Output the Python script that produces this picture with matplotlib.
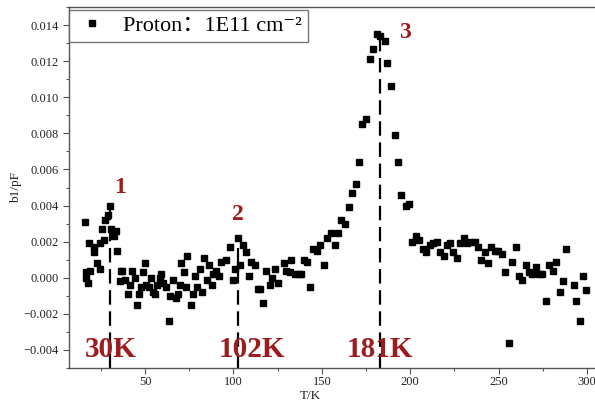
import matplotlib
matplotlib.use("Agg")
import matplotlib.pyplot as plt
from matplotlib.ticker import MultipleLocator, FuncFormatter

# ---- data ----
T = [15.8, 18.3, 16.4, 16.8, 17.7, 19.1, 21.1, 21.4, 23.0, 24.3, 24.3, 25.8, 26.6, 27.5,
     29.0, 30.0, 30.9, 32.2, 33.4, 34.3, 36.2, 37.2, 35.6, 38.5, 40.3, 41.3, 42.8, 44.1,
     45.4, 46.6, 47.9, 48.8, 49.8, 50.7, 52.2, 53.6, 54.5, 55.4, 56.7, 58.3, 59.2, 60.1,
     61.7, 63.5, 63.9, 65.8, 67.7, 68.6, 70.5, 71.8, 73.7,
     69.6, 73.4, 77.1, 75.8, 78.1, 79.4, 81.3, 82.4, 83.3, 85.0, 86.1, 87.8, 88.4, 90.3,
     91.8, 93.2, 96.0, 97.9, 99.7, 101.1, 102.5, 103.9, 105.4, 107.3, 108.8, 110.1, 112.4,
     113.9, 115.2, 116.7, 118.2, 120.5, 122.0, 123.7, 125.4, 128.6, 129.5, 131.8, 132.4,
     134.6, 137.1, 138.4, 139.7, 141.8, 143.5, 145.0, 147.2, 149.2, 151.0, 153.1, 155.0,
     157.2, 159.1, 161.0, 163.3, 165.3, 167.2, 169.1,
     171.0, 172.9, 175.2, 177.0, 178.9, 181.2, 182.7, 185.5, 187.0, 188.9, 191.2, 193.0,
     195.0, 197.8, 199.3,
     201.2, 203.1, 204.9, 207.2, 209.1, 211.4, 212.9, 215.1, 217.0, 218.9, 220.8, 222.7,
     224.2, 226.4, 227.9, 230.2, 232.1, 234.0, 236.4, 238.3, 240.2, 242.1, 243.9, 245.9,
     247.7, 249.6, 251.9, 253.8, 255.7, 257.7, 259.6, 261.5, 263.4, 265.3, 267.1, 269.1,
     270.9, 272.8, 274.7, 277.0, 278.4, 280.7, 282.6, 284.5, 286.4, 288.3, 292.4, 293.9,
     296.2, 297.7, 299.6]
b1 = [0.0031, 0.0019, 0.0000, 0.0003, -0.0003, 0.0004, 0.0014, 0.0017, 0.0008, 0.0005, 0.0019,
      0.0027, 0.0021, 0.0032, 0.0035, 0.0040, 0.0027, 0.0023, 0.0026, 0.0015, 0.0004, 0.0004,
      -0.0002, -0.0001, -0.0009, -0.0004, 0.0004, 0.0000, -0.0015, -0.0009, -0.0005, 0.0003,
      0.0008, -0.0004, -0.0005, 0.0000, -0.0008, -0.0009, -0.0004, 0.0000, 0.0002, -0.0003,
      -0.0005, -0.0024, -0.0010, -0.0001, -0.0011, -0.0009, 0.0008, 0.0003, 0.0012,
      -0.0004, -0.0005, -0.0009, -0.0015, 0.0001, -0.0005, 0.0005, -0.0008, 0.0011, -0.0001,
      0.0007, -0.0004, 0.0002, 0.0004, 0.0001, 0.0009, 0.0010, 0.0017, -0.0001, 0.0005,
      0.0022, 0.0007, 0.0018, 0.0014, 0.0001, 0.0009, 0.0007, -0.0006, -0.0006, -0.0014,
      0.0004, -0.0004, 0.0000, 0.0005, -0.0003, 0.0008, 0.0004, 0.0003, 0.0010, 0.0002,
      0.0002, 0.0002, 0.0010, 0.0009, -0.0005, 0.0016, 0.0015, 0.0018, 0.0007, 0.0022,
      0.0025, 0.0018, 0.0025, 0.0032, 0.0030, 0.0039, 0.0047, 0.0052,
      0.0064, 0.0085, 0.0088, 0.0121, 0.0127, 0.0135, 0.0134, 0.0131, 0.0119, 0.0106,
      0.0079, 0.0064, 0.0046, 0.0040, 0.0041,
      0.0020, 0.0023, 0.0021, 0.0016, 0.0014, 0.0018, 0.0019, 0.0020, 0.0014, 0.0012,
      0.0018, 0.0019, 0.0014, 0.0011, 0.0019, 0.0022, 0.0019, 0.0020, 0.0020, 0.0017,
      0.0010, 0.0014, 0.0008, 0.0017, 0.0015, 0.0015, 0.0013, 0.0003, -0.0036, 0.0009,
      0.0017, 0.0001, -0.0001, 0.0007, 0.0003, 0.0002, 0.0006, 0.0002, 0.0002, -0.0013,
      0.0007, 0.0004, 0.0009, -0.0008, -0.0002, 0.0016, -0.0004, -0.0013, -0.0024, 0.0001,
      -0.0007]

peak_T = [30.0, 102.5, 182.7]
peak_top = [0.0038, 0.0022, 0.0136]
peak_labels = ["1", "2", "3"]
peak_label_T = [35.6, 102.4, 196.8]
peak_label_V = [0.0050, 0.0035, 0.0136]
temp_labels = ["30K", "102K", "181K"]
temp_label_T = [30.6, 110.3, 183.1]
temp_label_V = -0.00396

legend_label = "Proton\uff1a1E11 cm\u207b\u00b2"

red = "#9c1c1f"
serif = ["Liberation Serif", "Noto Sans CJK SC", "DejaVu Serif"]
plt.rcParams["font.family"] = serif
plt.rcParams["axes.unicode_minus"] = True

fig = plt.figure(figsize=(5.95, 4.07), dpi=100)
ax = fig.add_axes([69 / 595, 1 - 368 / 407, 1 - 69 / 595, (368 - 7) / 407])

ax.plot(T, b1, linestyle="none", marker="s", markersize=5.0, color="black",
        label=legend_label, zorder=3)

ymin, ymax = -0.005, 0.015
for t, top in zip(peak_T, peak_top):
    ax.plot([t, t], [ymin, top], color="black", lw=1.6, dashes=(6.5, 3), zorder=2)

for t, v, s in zip(peak_label_T, peak_label_V, peak_labels):
    ax.text(t, v, s, color=red, fontsize=17, fontweight="bold", ha="center", va="center",
            family=serif)
for t, s in zip(temp_label_T, temp_labels):
    ax.text(t, temp_label_V, s, color=red, fontsize=21, fontweight="bold", ha="center",
            va="center", family=serif, zorder=4)

ax.set_xlim(7, 304.5)
ax.set_ylim(ymin, ymax)
ax.xaxis.set_major_locator(MultipleLocator(50))
ax.xaxis.set_minor_locator(MultipleLocator(25))
ax.yaxis.set_major_locator(MultipleLocator(0.002))
ax.yaxis.set_minor_locator(MultipleLocator(0.001))
ax.yaxis.set_major_formatter(FuncFormatter(lambda v, p: f"{v:.3f}".replace("-", "\u2212")))

ax.spines["right"].set_visible(False)
for sp in ["left", "bottom", "top"]:
    ax.spines[sp].set_color("#555555")
    ax.spines[sp].set_linewidth(1.0)
ax.tick_params(which="major", direction="out", length=4, width=0.8, color="#555555",
               labelsize=9, labelcolor="#222222", top=False, right=False)
ax.tick_params(axis="x", which="major", pad=2)
ax.tick_params(which="minor", direction="out", length=2.5, width=0.8, color="#555555",
               top=False, right=False)

ax.set_xlabel("T/K", fontsize=9.5, color="#222222")
ax.set_ylabel("b1/pF", fontsize=9.5, color="#222222")
ax.xaxis.set_label_coords((310 - 69) / 526, -0.062)
ax.yaxis.set_label_coords(-(69 - 22) / 526, 0.5)

leg = ax.legend(loc="upper left", bbox_to_anchor=(0.0, 0.992), fontsize=16,
                frameon=True, fancybox=False, borderpad=0.25, handletextpad=0.6,
                handlelength=1.6, markerscale=1.0, borderaxespad=0.0)
leg.get_frame().set_edgecolor("#555555")
leg.get_frame().set_linewidth(1.0)

fig.savefig("out.png", dpi=100)
